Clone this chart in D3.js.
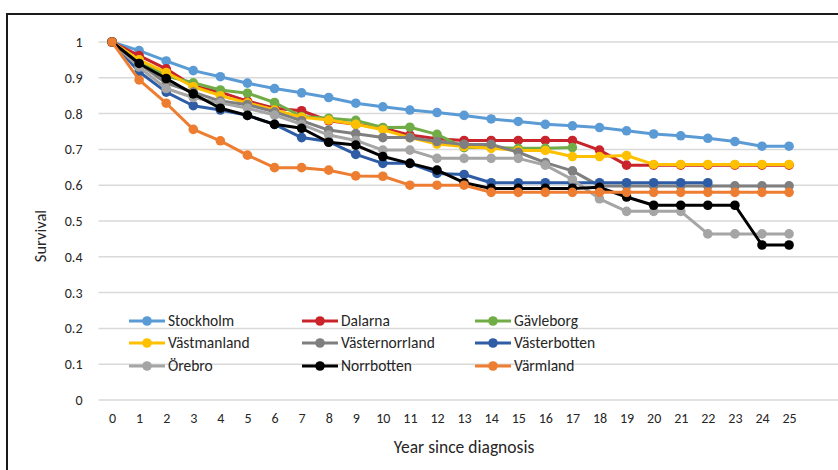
<!DOCTYPE html>
<html>
<head>
<meta charset="utf-8">
<script src="https://cdn.jsdelivr.net/npm/d3@7"></script>
<style>
  html, body { margin: 0; padding: 0; background: #fff; }
  svg { display: block; }
  text { font-family: Carlito, Lato, "Liberation Sans", sans-serif; fill: #262626; }
</style>
</head>
<body>
<svg id="chart" width="838" height="470"></svg>
<script>
// ---- data ----
const years = d3.range(0, 26).map(String);
const yTicks = [0, 0.1, 0.2, 0.3, 0.4, 0.5, 0.6, 0.7, 0.8, 0.9, 1];
const regionNames = ["Stockholm", "Dalarna", "Gävleborg", "Västmanland", "Västernorrland", "Västerbotten", "Örebro", "Norrbotten", "Värmland"];

const stockholm = [1, 0.976, 0.947, 0.920, 0.903, 0.885, 0.870, 0.858, 0.845, 0.829, 0.819, 0.810, 0.803, 0.795, 0.785, 0.778, 0.770, 0.766, 0.761, 0.752, 0.743, 0.738, 0.731, 0.722, 0.709, 0.709];
const dalarna = [1, 0.962, 0.925, 0.877, 0.860, 0.835, 0.815, 0.808, 0.780, 0.770, 0.760, 0.740, 0.730, 0.725, 0.725, 0.725, 0.725, 0.725, 0.698, 0.656, 0.656, 0.656, 0.656, 0.656, 0.656, 0.656];
const gavleborg = [1, 0.950, 0.905, 0.886, 0.866, 0.857, 0.831, 0.792, 0.787, 0.781, 0.761, 0.762, 0.742, 0.705, 0.705, 0.703, 0.703, 0.705, null, null, null, null, null, null, null, null];
const vastmanland = [1, 0.950, 0.915, 0.875, 0.850, 0.830, 0.810, 0.790, 0.782, 0.770, 0.755, 0.733, 0.715, 0.708, 0.703, 0.697, 0.697, 0.680, 0.680, 0.683, 0.658, 0.658, 0.658, 0.658, 0.658, 0.658];
const vasternorrland = [1, 0.940, 0.885, 0.860, 0.835, 0.825, 0.805, 0.780, 0.754, 0.744, 0.733, 0.733, 0.722, 0.714, 0.714, 0.692, 0.663, 0.640, 0.598, 0.598, 0.598, 0.598, 0.598, 0.598, 0.598, 0.598];
const vasterbotten = [1, 0.917, 0.860, 0.822, 0.810, 0.795, 0.770, 0.733, 0.722, 0.686, 0.661, 0.661, 0.633, 0.630, 0.607, 0.607, 0.607, 0.607, 0.607, 0.607, 0.607, 0.607, 0.607, null, null, null];
const orebro = [1, 0.930, 0.870, 0.845, 0.830, 0.815, 0.796, 0.770, 0.740, 0.725, 0.698, 0.698, 0.675, 0.675, 0.675, 0.675, 0.656, 0.616, 0.562, 0.527, 0.527, 0.527, 0.464, 0.464, 0.464, 0.464];
const norrbotten = [1, 0.940, 0.898, 0.855, 0.815, 0.795, 0.770, 0.759, 0.720, 0.712, 0.680, 0.661, 0.642, 0.607, 0.591, 0.591, 0.591, 0.591, 0.594, 0.567, 0.544, 0.544, 0.544, 0.544, 0.433, 0.433];
const varmland = [1, 0.894, 0.829, 0.756, 0.724, 0.684, 0.649, 0.649, 0.642, 0.626, 0.625, 0.600, 0.600, 0.600, 0.580, 0.580, 0.580, 0.580, 0.580, 0.580, 0.580, 0.580, 0.580, 0.580, 0.580, 0.580];

const seriesValues = [stockholm, dalarna, gavleborg, vastmanland, vasternorrland, vasterbotten, orebro, norrbotten, varmland];
const colors = ["#5B9BD5", "#C9242B", "#70AD47", "#FFC000", "#7F7F7F", "#2E5DA6", "#A5A5A5", "#000000", "#ED7D31"];

const series = regionNames.map((name, i) => ({ name, color: colors[i], values: seriesValues[i] }));

// ---- layout ----
const svg = d3.select("#chart");
const plot = { left: 98.5, right: 802.6, top: 42, bottom: 400 };

// outer frame
svg.append("rect")
  .attr("x", 7).attr("y", 14)
  .attr("width", 900).attr("height", 600)
  .attr("fill", "none").attr("stroke", "#1a1a1a").attr("stroke-width", 2);

const x = d3.scalePoint().domain(years).range([plot.left, plot.right]).padding(0.5);
const y = d3.scaleLinear().domain([0, 1]).range([plot.bottom, plot.top]);

// gridlines
svg.append("g").selectAll("line").data(yTicks).join("line")
  .attr("x1", plot.left).attr("x2", 838)
  .attr("y1", d => y(d)).attr("y2", d => y(d))
  .attr("stroke", "#D9D9D9").attr("stroke-width", 1.5);

// y axis labels
const yAxis = svg.append("g")
  .attr("transform", `translate(${plot.left},0)`)
  .call(d3.axisLeft(y).tickValues(yTicks).tickSize(0).tickPadding(16)
    .tickFormat(d => d3.format("")(+d.toFixed(1))));
yAxis.select(".domain").remove();
yAxis.selectAll("text").style("font-size", "14px").style("font-family", "Carlito, Lato, sans-serif").attr("fill", "#262626");

// x axis labels
const xAxis = svg.append("g")
  .attr("transform", `translate(0,${plot.bottom})`)
  .call(d3.axisBottom(x).tickSize(0).tickPadding(13));
xAxis.select(".domain").remove();
xAxis.selectAll("text").style("font-size", "14px").style("font-family", "Carlito, Lato, sans-serif").attr("fill", "#262626");

// axis titles
svg.append("text")
  .attr("x", 464).attr("y", 453)
  .attr("text-anchor", "middle").style("font-size", "17.5px")
  .text("Year since diagnosis");
svg.append("text")
  .attr("transform", "translate(46,236) rotate(-90)")
  .attr("text-anchor", "middle").style("font-size", "16.5px")
  .text("Survival");

// lines
const line = d3.line()
  .defined(d => d != null)
  .x((d, i) => x(years[i]))
  .y(d => y(d));

const gSeries = svg.append("g").selectAll("g").data(series).join("g");
gSeries.append("path")
  .attr("d", d => line(d.values))
  .attr("fill", "none")
  .attr("stroke", d => d.color)
  .attr("stroke-width", 3)
  .attr("stroke-linejoin", "round");
gSeries.selectAll("circle")
  .data(d => d.values.map((v, i) => ({ v, i, color: d.color })).filter(p => p.v != null))
  .join("circle")
  .attr("cx", p => x(years[p.i]))
  .attr("cy", p => y(p.v))
  .attr("r", 4.8)
  .attr("fill", p => p.color);

// legend
const legendCols = [129, 302, 475];
const legendRows = [321, 343, 366];
const lg = svg.append("g").selectAll("g").data(series).join("g")
  .attr("transform", (d, i) => `translate(${legendCols[i % 3]},${legendRows[Math.floor(i / 3)]})`);
lg.append("line")
  .attr("x1", 0).attr("x2", 36).attr("y1", 0).attr("y2", 0)
  .attr("stroke", d => d.color).attr("stroke-width", 3);
lg.append("circle").attr("cx", 18).attr("cy", 0).attr("r", 4.8).attr("fill", d => d.color);
lg.append("text")
  .attr("x", 39).attr("y", 0).attr("dy", "0.35em")
  .style("font-size", "15.5px")
  .text(d => d.name);
</script>
</body>
</html>
